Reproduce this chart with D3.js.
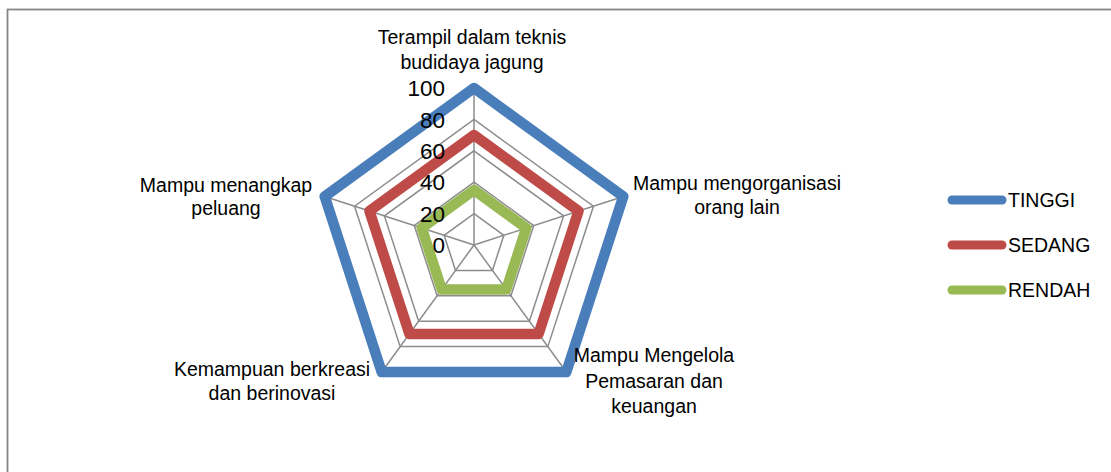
<!DOCTYPE html>
<html>
<head>
<meta charset="utf-8">
<script src="https://cdn.jsdelivr.net/npm/d3@7"></script>
<style>
  body { margin: 0; background: #fff; }
  svg { display: block; font-family: "Liberation Sans", Arial, sans-serif; }
</style>
</head>
<body>
<script>
// chart data
const categories = [
  ["Terampil dalam teknis", "budidaya jagung"],
  ["Mampu mengorganisasi", "orang lain"],
  ["Mampu Mengelola", "Pemasaran dan", "keuangan"],
  ["Kemampuan berkreasi", "dan berinovasi"],
  ["Mampu menangkap", "peluang"]
];
const seriesNames = ["TINGGI", "SEDANG", "RENDAH"];
const tinggi = [100, 100, 100, 100, 100];
const sedang = [70, 70, 70, 70, 70];
const rendah = [35, 35, 35, 35, 35];
const tickValues = [0, 20, 40, 60, 80, 100];
const seriesColors = ["#4a7ebb", "#be4b48", "#98b954"];

const width = 1111,
  height = 472;
const cx = 474,
  cy = 245,
  radius = 157;

const svg = d3
  .select("body")
  .append("svg")
  .attr("width", width)
  .attr("height", height);

// outer chart border
svg
  .append("rect")
  .attr("x", 7.5)
  .attr("y", 9.5)
  .attr("width", 1130)
  .attr("height", 500)
  .attr("fill", "none")
  .attr("stroke", "#868686")
  .attr("stroke-width", 1.8);

const rScale = d3.scaleLinear().domain([0, 100]).range([0, radius]);
const angle = d3
  .scaleLinear()
  .domain([0, categories.length])
  .range([0, 2 * Math.PI]);

const point = (i, v) => [
  cx + rScale(v) * Math.sin(angle(i)),
  cy - rScale(v) * Math.cos(angle(i))
];

const g = svg.append("g");

// grid rings
g.selectAll(".ring")
  .data(tickValues.filter((t) => t > 0))
  .enter()
  .append("polygon")
  .attr("points", (t) => categories.map((c, i) => point(i, t).join(",")).join(" "))
  .attr("fill", "none")
  .attr("stroke", "#8c8c8c")
  .attr("stroke-width", 1.5);

// spokes
g.selectAll(".spoke")
  .data(categories)
  .enter()
  .append("line")
  .attr("x1", cx)
  .attr("y1", cy)
  .attr("x2", (d, i) => point(i, 100)[0])
  .attr("y2", (d, i) => point(i, 100)[1])
  .attr("stroke", "#8c8c8c")
  .attr("stroke-width", 1.5);

// series
const allSeries = [tinggi, sedang, rendah];
const line = d3
  .lineRadial()
  .angle((d, i) => angle(i))
  .radius((d) => rScale(d))
  .curve(d3.curveLinearClosed);

g.selectAll(".series")
  .data(allSeries)
  .enter()
  .append("path")
  .attr("transform", `translate(${cx},${cy})`)
  .attr("d", (d) => line(d))
  .attr("fill", "none")
  .attr("stroke", (d, i) => seriesColors[i])
  .attr("stroke-width", 10.5)
  .attr("stroke-linejoin", "round");

// tick labels
g.selectAll(".tick")
  .data(tickValues)
  .enter()
  .append("text")
  .attr("x", cx - 29)
  .attr("y", (d) => cy - rScale(d))
  .attr("dy", "0.36em")
  .attr("text-anchor", "end")
  .attr("font-size", 22.5)
  .attr("fill", "#000")
  .text((d) => d);

// category labels (center x, first line center y)
const labelPos = [
  [472, 37],
  [737, 183],
  [654, 355],
  [272, 369],
  [226, 185]
];
const lineGap = [25, 24, 25.5, 24, 23];

categories.forEach((lines, i) => {
  const t = g
    .append("text")
    .attr("text-anchor", "middle")
    .attr("font-size", 19.5)
    .attr("fill", "#000");
  lines.forEach((s, j) => {
    t.append("tspan")
      .attr("x", labelPos[i][0])
      .attr("y", labelPos[i][1] + j * lineGap[i])
      .attr("dy", "0.36em")
      .text(s);
  });
});

// legend
const legend = svg
  .append("g")
  .selectAll("g")
  .data(seriesNames)
  .enter()
  .append("g")
  .attr("transform", (d, i) => `translate(952,${200 + i * 45})`);

legend
  .append("line")
  .attr("x1", 0)
  .attr("x2", 50)
  .attr("stroke", (d, i) => seriesColors[i])
  .attr("stroke-width", 9)
  .attr("stroke-linecap", "round");

legend
  .append("text")
  .attr("x", 56)
  .attr("dy", "0.36em")
  .attr("font-size", 19.5)
  .attr("fill", "#000")
  .text((d) => d);
</script>
</body>
</html>
